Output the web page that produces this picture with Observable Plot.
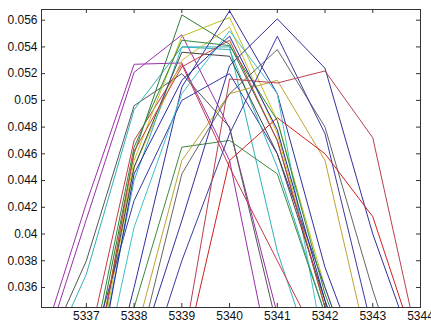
<!DOCTYPE html>
<html><head><meta charset="utf-8">
<script src="https://cdn.jsdelivr.net/npm/d3@7"></script>
<script src="https://cdn.jsdelivr.net/npm/@observablehq/plot@0.6"></script>
<style>body{margin:0;background:#fff}</style>
</head><body><div id="chart"></div>
<script>
const xs = [5336, 5337, 5338, 5339, 5340, 5341, 5342, 5343, 5344];
const s01 = [0.031, 0.0423, 0.0527, 0.0528, 0.0455, 0.028, 0.018, 0.012, 0.010];
const s02 = [0.030, 0.0411, 0.0521, 0.0549, 0.0479, 0.034, 0.024, 0.016, 0.012];
const s03 = [0.030, 0.038, 0.0496, 0.052, 0.048, 0.033, 0.022, 0.015, 0.012];
const s04 = [0.029, 0.037, 0.0493, 0.054, 0.054, 0.0387, 0.028, 0.018, 0.013];
const s05 = [0.020, 0.031, 0.047, 0.0527, 0.045, 0.038, 0.031, 0.022, 0.015];
const s06 = [0.015, 0.028, 0.046, 0.0564, 0.0542, 0.047, 0.0345, 0.025, 0.018];
const s07 = [0.014, 0.027, 0.0455, 0.0548, 0.0562, 0.0485, 0.036, 0.026, 0.018];
const s08 = [0.013, 0.026, 0.045, 0.053, 0.0555, 0.0475, 0.0345, 0.024, 0.017];
const s09 = [0.012, 0.022, 0.036, 0.051, 0.0567, 0.0505, 0.0375, 0.028, 0.020];
const s10 = [0.020, 0.030, 0.0425, 0.050, 0.052, 0.046, 0.036, 0.026, 0.018];
const s11 = [0.014, 0.026, 0.044, 0.054, 0.0538, 0.045, 0.034, 0.024, 0.017];
const s12 = [0.013, 0.024, 0.0405, 0.0505, 0.0552, 0.0505, 0.031, 0.022, 0.016];
const s13 = [0.015, 0.027, 0.045, 0.0536, 0.0533, 0.046, 0.035, 0.025, 0.018];
const s14 = [0.012, 0.022, 0.0345, 0.0465, 0.047, 0.0445, 0.034, 0.025, 0.018];
const s15 = [0.010, 0.018, 0.032, 0.0455, 0.0505, 0.0515, 0.0455, 0.030, 0.020];
const s16 = [0.010, 0.016, 0.030, 0.0445, 0.0505, 0.0538, 0.048, 0.0358, 0.025];
const s17 = [0.012, 0.020, 0.030, 0.041, 0.0526, 0.0561, 0.0524, 0.040, 0.030];
const s18 = [0.010, 0.018, 0.027, 0.038, 0.0475, 0.0548, 0.0475, 0.0327, 0.022];
const s19 = [0.010, 0.016, 0.022, 0.031, 0.0516, 0.0513, 0.0522, 0.0472, 0.031];
const s20 = [0.010, 0.016, 0.022, 0.030, 0.0455, 0.0487, 0.046, 0.0413, 0.0305];
const s21 = [0.015, 0.029, 0.0465, 0.0545, 0.0541, 0.0485, 0.0355, 0.026, 0.018];
const s22 = [0.015, 0.026, 0.0462, 0.0525, 0.0545, 0.047, 0.0345, 0.024, 0.017];
const s23 = [0.014, 0.025, 0.0445, 0.0515, 0.0548, 0.0478, 0.0350, 0.025, 0.018];

const seriesNames = ["s01","s02","s03","s04","s05","s06","s07","s08","s09","s10","s11","s12","s13","s14","s15","s16","s17","s18","s19","s20","s21","s22","s23"];
const seriesValues = [s01,s02,s03,s04,s05,s06,s07,s08,s09,s10,s11,s12,s13,s14,s15,s16,s17,s18,s19,s20,s21,s22,s23];
const seriesColors = ["#9a30a8","#9a30a8","#555555","#30b0b8","#c83848","#2f7a3a","#c0c020","#c8c030","#30309a","#3838a8","#30b0b8","#40c0c8","#444444","#3a8a40","#c0a030","#666666","#30309a","#3a3aa0","#b84050","#d02020","#2f8a40","#c84040","#2828a0"];
const xTicks = [5337, 5338, 5339, 5340, 5341, 5342, 5343, 5344];
const yTicks = [0.036, 0.038, 0.04, 0.042, 0.044, 0.046, 0.048, 0.05, 0.052, 0.054, 0.056];

const rows = seriesValues.flatMap((vals, i) => vals.map((v, j) => ({series: seriesNames[i], x: xs[j], y: v})));

const W = 431, H = 325, mL = 41, mR = 11, mT = 9, mB = 18;
const innerW = W - mL - mR, innerH = H - mT - mB;
const plot = Plot.plot({
  width: W, height: H, marginLeft: mL, marginRight: mR, marginTop: mT, marginBottom: mB,
  x: {domain: [5336.06, 5344]},
  y: {domain: [0.0345, 0.0568]},
  color: {domain: seriesNames, range: seriesColors},
  style: {fontFamily: "Liberation Sans, Arial, sans-serif", fontSize: "12px", background: "#fff", color: "#111", overflow: "visible"},
  marks: [
    Plot.line(rows, {x: "x", y: "y", z: "series", stroke: "series", strokeWidth: 1, clip: true}),
    Plot.frame({stroke: "#333"}),
    Plot.tickX(xTicks, {x: d => d, insetTop: innerH - 4, stroke: "#333"}),
    Plot.tickX(xTicks, {x: d => d, insetBottom: innerH - 4, stroke: "#333"}),
    Plot.tickY(yTicks, {y: d => d, insetRight: innerW - 4, stroke: "#333"}),
    Plot.tickY(yTicks, {y: d => d, insetLeft: innerW - 4, stroke: "#333"}),
    Plot.axisX(xTicks, {tickSize: 0, tickPadding: 4, tickFormat: d => String(d), fontSize: 12, label: null}),
    Plot.axisY(yTicks, {tickSize: 0, tickPadding: 4, tickFormat: d => String(d), fontSize: 12, label: null})
  ]
});
document.getElementById("chart").appendChild(plot);
</script>
</body></html>
